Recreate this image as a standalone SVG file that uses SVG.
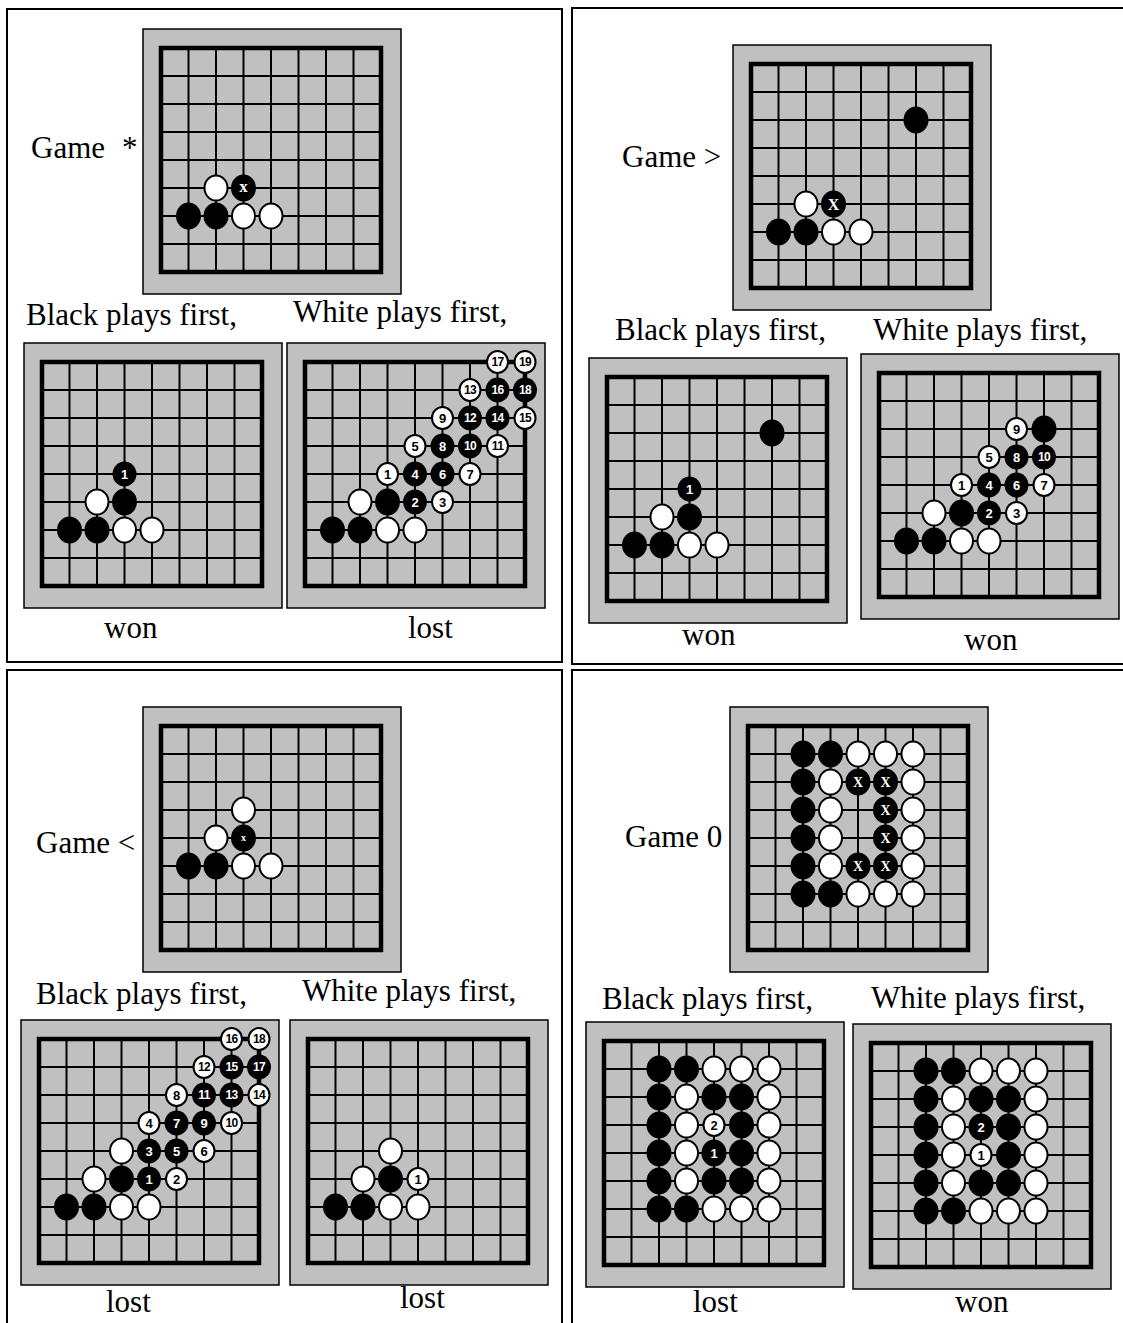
<svg xmlns="http://www.w3.org/2000/svg" xmlns:xlink="http://www.w3.org/1999/xlink" width="1123" height="1323" viewBox="0 0 1123 1323">
<style>
.box{fill:none;stroke:#000;stroke-width:2}
.lbl{font-family:"Liberation Serif","Times New Roman",serif;font-size:31px;fill:#000}
.num{font-family:"Liberation Sans",Arial,sans-serif;font-weight:bold;font-size:13px;text-anchor:middle}
.n2{font-size:12px;letter-spacing:-0.6px}
.nw{fill:#fff}
.nb{fill:#000}
.xm{font-family:"Liberation Serif","Times New Roman",serif;font-weight:bold;fill:#fff;text-anchor:middle}
</style>
<defs>
<g id="board">
<rect x="-18" y="-19" width="258" height="265" fill="#c0c0c0" stroke="#000" stroke-width="1.5"/>
<path d="M27.5 0V224M55 0V224M82.5 0V224M110 0V224M137.5 0V224M165 0V224M192.5 0V224M0 28H220M0 56H220M0 84H220M0 112H220M0 140H220M0 168H220M0 196H220" fill="none" stroke="#000" stroke-width="2"/>
<rect x="0" y="0" width="220" height="224" fill="none" stroke="#000" stroke-width="4.5"/>
</g>
<ellipse id="B" cx="0" cy="0" rx="12.5" ry="13.5" fill="#000"/>
<ellipse id="W" cx="0" cy="0" rx="11.5" ry="12.5" fill="#fff" stroke="#000" stroke-width="2"/>
<ellipse id="nB" cx="0" cy="0" rx="12" ry="12.5" fill="#000"/>
<ellipse id="nW" cx="0" cy="0" rx="10.5" ry="11" fill="#fff" stroke="#000" stroke-width="2"/>
</defs>
<rect width="1123" height="1323" fill="#fff"/>

<g id="frames">
<rect class="box" x="7" y="9" width="555" height="653"/>
<rect class="box" x="572" y="8" width="600" height="656"/>
<rect class="box" x="7" y="670" width="555" height="700"/>
<rect class="box" x="572" y="670" width="600" height="700"/>
</g>

<g id="connectors"/>

<!-- Top-left quadrant -->
<g id="game-star">
<text class="lbl" x="31" y="158">Game<tspan x="122">*</tspan></text>
<g transform="translate(161,48)">
<use href="#board"/>
<use href="#W" x="55" y="140"/><use href="#B" x="82.5" y="140"/><text class="xm" x="82.5" y="144" font-size="17">x</text>
<use href="#B" x="27.5" y="168"/><use href="#B" x="55" y="168"/><use href="#W" x="82.5" y="168"/><use href="#W" x="110" y="168"/>
</g>
</g>
<g id="star-black">
<text class="lbl" x="26" y="325">Black plays first,</text>
<g transform="translate(42,362)">
<use href="#board"/>
<use href="#B" x="27.5" y="168"/><use href="#B" x="55" y="168"/><use href="#W" x="82.5" y="168"/><use href="#W" x="110" y="168"/>
<use href="#W" x="55" y="140"/><use href="#B" x="82.5" y="140"/>
<use href="#nB" x="82.5" y="112"/><text class="num nw" x="82.5" y="116.6">1</text>
</g>
<text class="lbl" x="104" y="638">won</text>
</g>
<g id="star-white">
<text class="lbl" x="293" y="322">White plays first,</text>
<g transform="translate(305,362)">
<use href="#board"/>
<use href="#B" x="27.5" y="168"/><use href="#B" x="55" y="168"/><use href="#W" x="82.5" y="168"/><use href="#W" x="110" y="168"/>
<use href="#W" x="55" y="140"/><use href="#B" x="82.5" y="140"/>
<use href="#nB" x="110" y="140"/><text class="num nw" x="110" y="144.6">2</text>
<use href="#nW" x="137.5" y="140"/><text class="num nb" x="137.5" y="144.6">3</text>
<use href="#nW" x="82.5" y="112"/><text class="num nb" x="82.5" y="116.6">1</text>
<use href="#nB" x="110" y="112"/><text class="num nw" x="110" y="116.6">4</text>
<use href="#nB" x="137.5" y="112"/><text class="num nw" x="137.5" y="116.6">6</text>
<use href="#nW" x="165" y="112"/><text class="num nb" x="165" y="116.6">7</text>
<use href="#nW" x="110" y="84"/><text class="num nb" x="110" y="88.6">5</text>
<use href="#nB" x="137.5" y="84"/><text class="num nw" x="137.5" y="88.6">8</text>
<use href="#nB" x="165" y="84"/><text class="num n2 nw" x="165" y="88.3">10</text>
<use href="#nW" x="192.5" y="84"/><text class="num n2 nb" x="192.5" y="88.3">11</text>
<use href="#nW" x="137.5" y="56"/><text class="num nb" x="137.5" y="60.6">9</text>
<use href="#nB" x="165" y="56"/><text class="num n2 nw" x="165" y="60.3">12</text>
<use href="#nB" x="192.5" y="56"/><text class="num n2 nw" x="192.5" y="60.3">14</text>
<use href="#nW" x="220" y="56"/><text class="num n2 nb" x="220" y="60.3">15</text>
<use href="#nW" x="165" y="28"/><text class="num n2 nb" x="165" y="32.3">13</text>
<use href="#nB" x="192.5" y="28"/><text class="num n2 nw" x="192.5" y="32.3">16</text>
<use href="#nB" x="220" y="28"/><text class="num n2 nw" x="220" y="32.3">18</text>
<use href="#nW" x="192.5" y="0"/><text class="num n2 nb" x="192.5" y="4.3">17</text>
<use href="#nW" x="220" y="0"/><text class="num n2 nb" x="220" y="4.3">19</text>
</g>
<text class="lbl" x="408" y="638">lost</text>
</g>

<!-- Top-right quadrant -->
<g id="game-greater">
<text class="lbl" x="622" y="167">Game &gt;</text>
<g transform="translate(751,64)">
<use href="#board"/>
<use href="#B" x="165" y="56"/>
<use href="#W" x="55" y="140"/><use href="#B" x="82.5" y="140"/><text class="xm" x="82.5" y="145.5" font-size="16">X</text>
<use href="#B" x="27.5" y="168"/><use href="#B" x="55" y="168"/><use href="#W" x="82.5" y="168"/><use href="#W" x="110" y="168"/>
</g>
</g>
<g id="greater-black">
<text class="lbl" x="615" y="340">Black plays first,</text>
<g transform="translate(607,377)">
<use href="#board"/>
<use href="#B" x="165" y="56"/>
<use href="#nB" x="82.5" y="112"/><text class="num nw" x="82.5" y="116.6">1</text>
<use href="#W" x="55" y="140"/><use href="#B" x="82.5" y="140"/>
<use href="#B" x="27.5" y="168"/><use href="#B" x="55" y="168"/><use href="#W" x="82.5" y="168"/><use href="#W" x="110" y="168"/>
</g>
<text class="lbl" x="682" y="645">won</text>
</g>
<g id="greater-white">
<text class="lbl" x="873" y="340">White plays first,</text>
<g transform="translate(879,373)">
<use href="#board"/>
<use href="#B" x="27.5" y="168"/><use href="#B" x="55" y="168"/><use href="#W" x="82.5" y="168"/><use href="#W" x="110" y="168"/>
<use href="#W" x="55" y="140"/><use href="#B" x="82.5" y="140"/>
<use href="#B" x="165" y="56"/>
<use href="#nB" x="110" y="140"/><text class="num nw" x="110" y="144.6">2</text>
<use href="#nW" x="137.5" y="140"/><text class="num nb" x="137.5" y="144.6">3</text>
<use href="#nW" x="82.5" y="112"/><text class="num nb" x="82.5" y="116.6">1</text>
<use href="#nB" x="110" y="112"/><text class="num nw" x="110" y="116.6">4</text>
<use href="#nB" x="137.5" y="112"/><text class="num nw" x="137.5" y="116.6">6</text>
<use href="#nW" x="165" y="112"/><text class="num nb" x="165" y="116.6">7</text>
<use href="#nW" x="110" y="84"/><text class="num nb" x="110" y="88.6">5</text>
<use href="#nB" x="137.5" y="84"/><text class="num nw" x="137.5" y="88.6">8</text>
<use href="#nB" x="165" y="84"/><text class="num n2 nw" x="165" y="88.3">10</text>
<use href="#nW" x="137.5" y="56"/><text class="num nb" x="137.5" y="60.6">9</text>
</g>
<text class="lbl" x="964" y="650">won</text>
</g>

<!-- Bottom-left quadrant -->
<g id="game-less">
<text class="lbl" x="36" y="853">Game &lt;</text>
<g transform="translate(161,726)">
<use href="#board"/>
<use href="#W" x="82.5" y="84"/>
<use href="#W" x="55" y="112"/><use href="#B" x="82.5" y="112"/><text class="xm" x="82.5" y="115" font-size="10">x</text>
<use href="#B" x="27.5" y="140"/><use href="#B" x="55" y="140"/><use href="#W" x="82.5" y="140"/><use href="#W" x="110" y="140"/>
</g>
</g>
<g id="less-black">
<text class="lbl" x="36" y="1004">Black plays first,</text>
<g transform="translate(39,1039)">
<use href="#board"/>
<use href="#B" x="27.5" y="168"/><use href="#B" x="55" y="168"/><use href="#W" x="82.5" y="168"/><use href="#W" x="110" y="168"/>
<use href="#W" x="55" y="140"/><use href="#B" x="82.5" y="140"/>
<use href="#nB" x="110" y="140"/><text class="num nw" x="110" y="144.6">1</text>
<use href="#nW" x="137.5" y="140"/><text class="num nb" x="137.5" y="144.6">2</text>
<use href="#W" x="82.5" y="112"/>
<use href="#nB" x="110" y="112"/><text class="num nw" x="110" y="116.6">3</text>
<use href="#nB" x="137.5" y="112"/><text class="num nw" x="137.5" y="116.6">5</text>
<use href="#nW" x="165" y="112"/><text class="num nb" x="165" y="116.6">6</text>
<use href="#nW" x="110" y="84"/><text class="num nb" x="110" y="88.6">4</text>
<use href="#nB" x="137.5" y="84"/><text class="num nw" x="137.5" y="88.6">7</text>
<use href="#nB" x="165" y="84"/><text class="num nw" x="165" y="88.6">9</text>
<use href="#nW" x="192.5" y="84"/><text class="num n2 nb" x="192.5" y="88.3">10</text>
<use href="#nW" x="137.5" y="56"/><text class="num nb" x="137.5" y="60.6">8</text>
<use href="#nB" x="165" y="56"/><text class="num n2 nw" x="165" y="60.3">11</text>
<use href="#nB" x="192.5" y="56"/><text class="num n2 nw" x="192.5" y="60.3">13</text>
<use href="#nW" x="220" y="56"/><text class="num n2 nb" x="220" y="60.3">14</text>
<use href="#nW" x="165" y="28"/><text class="num n2 nb" x="165" y="32.3">12</text>
<use href="#nB" x="192.5" y="28"/><text class="num n2 nw" x="192.5" y="32.3">15</text>
<use href="#nB" x="220" y="28"/><text class="num n2 nw" x="220" y="32.3">17</text>
<use href="#nW" x="192.5" y="0"/><text class="num n2 nb" x="192.5" y="4.3">16</text>
<use href="#nW" x="220" y="0"/><text class="num n2 nb" x="220" y="4.3">18</text>
</g>
<text class="lbl" x="106" y="1312">lost</text>
</g>
<g id="less-white">
<text class="lbl" x="302" y="1001">White plays first,</text>
<g transform="translate(308,1039)">
<use href="#board"/>
<use href="#B" x="27.5" y="168"/><use href="#B" x="55" y="168"/><use href="#W" x="82.5" y="168"/><use href="#W" x="110" y="168"/>
<use href="#W" x="55" y="140"/><use href="#B" x="82.5" y="140"/>
<use href="#nW" x="110" y="140"/><text class="num nb" x="110" y="144.6">1</text>
<use href="#W" x="82.5" y="112"/>
</g>
<text class="lbl" x="400" y="1308">lost</text>
</g>

<!-- Bottom-right quadrant -->
<g id="game-zero">
<text class="lbl" x="625" y="847">Game 0</text>
<g transform="translate(748,726)">
<use href="#board"/>
<use href="#B" x="55" y="28"/><use href="#B" x="82.5" y="28"/><use href="#W" x="110" y="28"/><use href="#W" x="137.5" y="28"/><use href="#W" x="165" y="28"/>
<use href="#B" x="55" y="56"/><use href="#W" x="82.5" y="56"/><use href="#B" x="110" y="56"/><use href="#B" x="137.5" y="56"/><use href="#W" x="165" y="56"/>
<use href="#B" x="55" y="84"/><use href="#W" x="82.5" y="84"/><use href="#B" x="137.5" y="84"/><use href="#W" x="165" y="84"/>
<use href="#B" x="55" y="112"/><use href="#W" x="82.5" y="112"/><use href="#B" x="137.5" y="112"/><use href="#W" x="165" y="112"/>
<use href="#B" x="55" y="140"/><use href="#W" x="82.5" y="140"/><use href="#B" x="110" y="140"/><use href="#B" x="137.5" y="140"/><use href="#W" x="165" y="140"/>
<use href="#B" x="55" y="168"/><use href="#B" x="82.5" y="168"/><use href="#W" x="110" y="168"/><use href="#W" x="137.5" y="168"/><use href="#W" x="165" y="168"/>
<g class="xm" font-size="14">
<text x="110" y="61">X</text><text x="137.5" y="61">X</text>
<text x="137.5" y="89">X</text>
<text x="137.5" y="117">X</text>
<text x="110" y="145">X</text><text x="137.5" y="145">X</text>
</g>
</g>
</g>
<g id="zero-black">
<text class="lbl" x="602" y="1009">Black plays first,</text>
<g transform="translate(604,1041)">
<use href="#board"/>
<use href="#B" x="55" y="28"/><use href="#B" x="82.5" y="28"/><use href="#W" x="110" y="28"/><use href="#W" x="137.5" y="28"/><use href="#W" x="165" y="28"/>
<use href="#B" x="55" y="56"/><use href="#W" x="82.5" y="56"/><use href="#B" x="110" y="56"/><use href="#B" x="137.5" y="56"/><use href="#W" x="165" y="56"/>
<use href="#B" x="55" y="84"/><use href="#W" x="82.5" y="84"/><use href="#nW" x="110" y="84"/><text class="num nb" x="110" y="88.6">2</text><use href="#B" x="137.5" y="84"/><use href="#W" x="165" y="84"/>
<use href="#B" x="55" y="112"/><use href="#W" x="82.5" y="112"/><use href="#B" x="110" y="112"/><text class="num nw" x="110" y="116.6">1</text><use href="#B" x="137.5" y="112"/><use href="#W" x="165" y="112"/>
<use href="#B" x="55" y="140"/><use href="#W" x="82.5" y="140"/><use href="#B" x="110" y="140"/><use href="#B" x="137.5" y="140"/><use href="#W" x="165" y="140"/>
<use href="#B" x="55" y="168"/><use href="#B" x="82.5" y="168"/><use href="#W" x="110" y="168"/><use href="#W" x="137.5" y="168"/><use href="#W" x="165" y="168"/>
</g>
<text class="lbl" x="693" y="1312">lost</text>
</g>
<g id="zero-white">
<text class="lbl" x="871" y="1008">White plays first,</text>
<g transform="translate(871,1043)">
<use href="#board"/>
<use href="#B" x="55" y="28"/><use href="#B" x="82.5" y="28"/><use href="#W" x="110" y="28"/><use href="#W" x="137.5" y="28"/><use href="#W" x="165" y="28"/>
<use href="#B" x="55" y="56"/><use href="#W" x="82.5" y="56"/><use href="#B" x="110" y="56"/><use href="#B" x="137.5" y="56"/><use href="#W" x="165" y="56"/>
<use href="#B" x="55" y="84"/><use href="#W" x="82.5" y="84"/><use href="#B" x="110" y="84"/><text class="num nw" x="110" y="88.6">2</text><use href="#B" x="137.5" y="84"/><use href="#W" x="165" y="84"/>
<use href="#B" x="55" y="112"/><use href="#W" x="82.5" y="112"/><use href="#nW" x="110" y="112"/><text class="num nb" x="110" y="116.6">1</text><use href="#B" x="137.5" y="112"/><use href="#W" x="165" y="112"/>
<use href="#B" x="55" y="140"/><use href="#W" x="82.5" y="140"/><use href="#B" x="110" y="140"/><use href="#B" x="137.5" y="140"/><use href="#W" x="165" y="140"/>
<use href="#B" x="55" y="168"/><use href="#B" x="82.5" y="168"/><use href="#W" x="110" y="168"/><use href="#W" x="137.5" y="168"/><use href="#W" x="165" y="168"/>
</g>
<text class="lbl" x="955" y="1312">won</text>
</g>
</svg>
